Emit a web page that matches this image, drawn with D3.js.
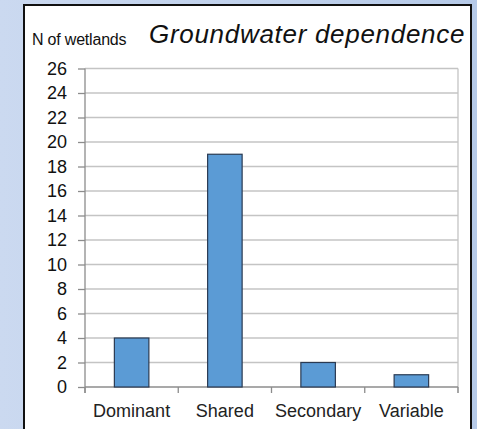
<!DOCTYPE html>
<html>
<head>
<meta charset="utf-8">
<script src="https://cdn.jsdelivr.net/npm/d3@7"></script>
<style>
html,body{margin:0;padding:0;}
body{width:477px;height:429px;overflow:hidden;}
svg{display:block;font-family:"Liberation Sans",Arial,sans-serif;}
</style>
</head>
<body>
<svg id="chart" width="477" height="429"></svg>
<script>
const categories = ["Dominant", "Shared", "Secondary", "Variable"];
const values = [4, 19, 2, 1];
const yTicks = [0, 2, 4, 6, 8, 10, 12, 14, 16, 18, 20, 22, 24, 26];
const yLabel = "N of wetlands";
const title = "Groundwater dependence";

(function () {
const svg = d3.select("#chart");
const W = 477, H = 429;

const defs = svg.append("defs");
const grad = defs.append("linearGradient").attr("id", "bg").attr("x1", 0).attr("x2", 1).attr("y1", 0).attr("y2", 0);
grad.append("stop").attr("offset", "0%").attr("stop-color", "#cbd9f0");
grad.append("stop").attr("offset", "100%").attr("stop-color", "#b6cae8");
svg.append("rect").attr("width", W).attr("height", H).attr("fill", "url(#bg)");

// white panel
svg.append("rect").attr("x", 24).attr("y", 5).attr("width", 447).attr("height", 440)
  .attr("fill", "#ffffff").attr("stroke", "#111").attr("stroke-width", 2);

const pLeft = 85, pRight = 458, pTop = 68.5, pBottom = 387;
const x = d3.scaleBand().domain(categories).range([pLeft, pRight]).padding(0);
const y = d3.scaleLinear().domain([0, 26]).range([pBottom, pTop]);

// gridlines
svg.append("g").selectAll("line").data(yTicks.filter(d => d > 0)).join("line")
  .attr("x1", pLeft).attr("x2", pRight)
  .attr("y1", d => y(d)).attr("y2", d => y(d))
  .attr("stroke", "#c4c4c4").attr("stroke-width", 1.3);

// right border of plot
svg.append("line").attr("x1", pRight).attr("x2", pRight).attr("y1", pTop).attr("y2", pBottom + 6)
  .attr("stroke", "#c4c4c4").attr("stroke-width", 1.3);

// y axis
const yAxis = d3.axisLeft(y).tickValues(yTicks).tickSize(7).tickPadding(11);
const gy = svg.append("g").attr("transform", `translate(${pLeft},0)`).call(yAxis);
gy.select(".domain").attr("stroke", "#8c8c8c").attr("stroke-width", 1.3)
  .attr("d", `M0,${pTop}V${pBottom + 6}`);
gy.selectAll(".tick line").attr("stroke", "#8c8c8c").attr("stroke-width", 1.3);
gy.selectAll(".tick text").attr("font-size", 18).attr("fill", "#111")
  .attr("font-family", '"Liberation Sans",Arial,sans-serif');

// x axis
const gx = svg.append("g").attr("transform", `translate(0,${pBottom})`);
gx.append("line").attr("x1", pLeft).attr("x2", pRight).attr("y1", 0).attr("y2", 0)
  .attr("stroke", "#8c8c8c").attr("stroke-width", 1.3);
const bounds = categories.map(c => x(c)).concat([x(categories[categories.length - 1]) + x.bandwidth()]);
gx.selectAll("line.sep").data(bounds).join("line").attr("class", "sep")
  .attr("x1", d => d).attr("x2", d => d).attr("y1", 0).attr("y2", 6)
  .attr("stroke", "#8c8c8c").attr("stroke-width", 1.3);
gx.selectAll("text").data(categories).join("text")
  .attr("x", d => x(d) + x.bandwidth() / 2).attr("y", 30)
  .attr("text-anchor", "middle").attr("font-size", 18).attr("fill", "#222")
  .text(d => d);

// bars
const bw = x.bandwidth() * 0.37;
svg.append("g").selectAll("rect").data(values).join("rect")
  .attr("x", (d, i) => x(categories[i]) + x.bandwidth() / 2 - bw / 2)
  .attr("y", d => y(d))
  .attr("width", bw)
  .attr("height", d => y(0) - y(d))
  .attr("fill", "#5b9bd5").attr("stroke", "#2a3a52").attr("stroke-width", 1.2);

// labels
svg.append("text").attr("x", 32).attr("y", 45).attr("font-size", 16).attr("fill", "#111")
  .attr("letter-spacing", -0.2).text(yLabel);
svg.append("text").attr("x", 149).attr("y", 43).attr("font-size", 26).attr("font-style", "italic")
  .attr("fill", "#111").attr("letter-spacing", 0.7).text(title);
})();
</script>
</body>
</html>
